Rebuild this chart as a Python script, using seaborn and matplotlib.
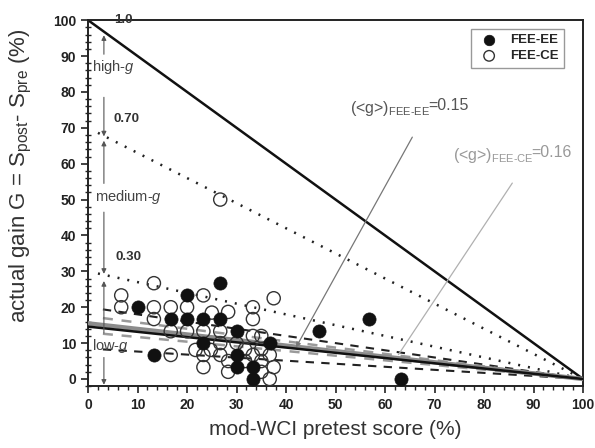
import matplotlib
matplotlib.use("Agg")
import matplotlib.pyplot as plt
import seaborn as sns
import pandas as pd
import numpy as np
from matplotlib.ticker import MultipleLocator

# ---- data ----
ee_x = [10, 13.3, 16.7, 20, 20, 23.3, 23.3, 26.7, 26.7, 30, 30, 30, 33.3, 33.3, 36.7, 46.7, 56.7, 63.3]
ee_y = [20, 6.7, 16.7, 23.3, 16.7, 16.7, 10, 26.7, 16.7, 13.3, 6.7, 3.3, 3.3, 0, 10, 13.3, 16.7, 0]

ce_x = [6.7, 6.7, 13.3, 13.3, 13.3, 16.7, 16.7, 16.7, 20, 20, 23.3, 23.3, 23.3, 23.3, 21.7, 24.8,
        25, 28.3, 26.7, 26.7, 26.7, 26.7, 28.3, 28.3, 30, 31.7, 31.7, 33.3, 33.3, 33.3, 33.3,
        35, 35, 35, 35, 36.7, 37.5, 37.5, 36.7]
ce_y = [23.3, 20, 26.7, 20, 16.7, 20, 13.3, 6.7, 20, 13.3, 23.3, 13.3, 6.7, 3.3, 8.1, 8.1,
        18.5, 18.7, 50, 13.3, 10, 6.7, 5, 2, 10, 8.3, 5, 20, 16.7, 12, 6.7,
        12, 8.3, 5, 2, 6.7, 22.5, 3.3, 0]

line_x = [0, 100]
ref_g = [1.0, 0.70, 0.30]          # normalized-gain reference lines
ref_labels = ["1.0", "0.70", "0.30"]
fit_g_ee = 0.146                    # fitted <g> lines
fit_g_ce = 0.155
band_g_ee = [0.20, 0.085]           # dashed bands
band_g_ce = [0.175, 0.13]

df_ee = pd.DataFrame({"x": ee_x, "y": ee_y})
df_ce = pd.DataFrame({"x": ce_x, "y": ce_y})

# ---- style ----
sns.set_style("ticks")
plt.rcParams["font.family"] = ["Liberation Sans", "DejaVu Sans"]
plt.rcParams["mathtext.fontset"] = "custom"
plt.rcParams["mathtext.rm"] = "Liberation Sans"
plt.rcParams["mathtext.it"] = "Liberation Sans:italic"
plt.rcParams["mathtext.bf"] = "Liberation Sans:bold"

fig = plt.figure(figsize=(5.95, 4.48), dpi=100)
ax = fig.add_axes([0.148, 0.138, 0.832, 0.817])


def gline(g, x0=0.0):
    xs = np.array([x0, line_x[1]], dtype=float)
    return xs, g * (100 - xs)


# reference lines
xs, ys = gline(ref_g[0])
ax.plot(xs, ys, color="#111111", lw=1.8, zorder=2)
for g in ref_g[1:]:
    xs, ys = gline(g, 2.0)
    ax.plot(xs, ys, color="#222222", lw=1.8, ls=(0, (0.8, 3.2)), zorder=2)

# dashed bands
for g in band_g_ee:
    xs, ys = gline(g, 3.0)
    ax.plot(xs, ys, color="#222222", lw=1.5, ls=(0, (4, 3.5)), zorder=2)
for g in band_g_ce:
    xs, ys = gline(g, 3.0)
    ax.plot(xs, ys, color="#9a9a9a", lw=1.8, ls=(0, (4, 3.5)), zorder=2)

# fitted lines
xs, ys = gline(fit_g_ce)
ax.plot(xs, ys, color="#8c8c8c", lw=3.2, zorder=3)
xs, ys = gline(fit_g_ee)
ax.plot(xs, ys, color="#111111", lw=1.8, zorder=3)

# scatter points
sns.scatterplot(data=df_ce, x="x", y="y", ax=ax, s=90, marker="o",
                facecolors="none", edgecolor="#333333", linewidth=1.0,
                label="FEE-CE", zorder=4)
sns.scatterplot(data=df_ee, x="x", y="y", ax=ax, s=90, marker="o",
                color="#111111", edgecolor="#111111", linewidth=0.5,
                label="FEE-EE", zorder=5)

# gain-region arrows
arrow_kw = dict(arrowstyle="-|>", color="#555555", lw=0.8, mutation_scale=7,
                shrinkA=0, shrinkB=0)
ax_x = 3.2
for y0, y1 in [(90.5, 95.8), (78.5, 67.6), (54.5, 66.4), (46.5, 29.3), (12.8, 27.3), (6.0, -1.6)]:
    ax.annotate("", xy=(ax_x, y1), xytext=(ax_x, y0), arrowprops=arrow_kw, zorder=3)

ax.text(0.8, 87, "high-$g$", fontsize=10.5, color="#444444", va="center", ha="left", zorder=6)
ax.text(1.5, 50.7, "medium-$g$", fontsize=10.5, color="#444444", va="center", ha="left", zorder=6)
ax.text(0.8, 9.2, "low-$g$", fontsize=10.5, color="#444444", va="center", ha="left", zorder=6)

# reference line labels
for lab, (lx, ly) in zip(ref_labels, [(5.2, 100), (5.2, 72.4), (5.6, 34)]):
    ax.text(lx, ly, lab, fontsize=9.5, fontweight="bold", color="#333333",
            va="center", ha="left", zorder=6)

# <g> annotations
ax.annotate("", xy=(42, 8.8), xytext=(65.5, 67.4),
            arrowprops=dict(arrowstyle="-|>", color="#777777", lw=0.9,
                            mutation_scale=7, shrinkA=0, shrinkB=0), zorder=6)
ax.annotate("", xy=(62.7, 6.8), xytext=(85.7, 54.6),
            arrowprops=dict(arrowstyle="-", color="#b0b0b0", lw=0.9,
                            shrinkA=0, shrinkB=0), zorder=6)
t1 = ax.text(53, 74, r"(<g>)$_{\text{FEE-EE}}$", fontsize=11.5, color="#555555",
             va="baseline", ha="left")
t2 = ax.text(73.8, 61, r"(<g>)$_{\text{FEE-CE}}$", fontsize=11.5, color="#999999",
             va="baseline", ha="left")
fig.canvas.draw()
inv = ax.transData.inverted()
for tt, y, col, val in [(t1, 74, "#555555", "=0.15"), (t2, 61, "#999999", "=0.16")]:
    bb = tt.get_window_extent()
    xe = inv.transform((bb.x1, bb.y0))[0]
    ax.text(xe - 2.2, y + 0.9, val, fontsize=11.5, color=col, va="baseline", ha="left")

# axes
ax.set_xlim(0, 100)
ax.set_ylim(-2, 100)
ax.xaxis.set_major_locator(MultipleLocator(10))
ax.xaxis.set_minor_locator(MultipleLocator(2))
ax.yaxis.set_major_locator(MultipleLocator(10))
ax.yaxis.set_minor_locator(MultipleLocator(2))
ax.tick_params(axis="both", which="major", direction="out", length=5, width=1.2,
               labelsize=10, colors="#222222")
ax.tick_params(axis="x", which="minor", direction="out", length=3, width=1.0)
ax.tick_params(axis="y", which="minor", direction="inout", length=5, width=1.0)
for lab in ax.get_xticklabels() + ax.get_yticklabels():
    lab.set_fontweight("bold")
for sp in ax.spines.values():
    sp.set_visible(True)
    sp.set_linewidth(1.4)
    sp.set_color("#222222")

ax.set_xlabel("mod-WCI pretest score (%)", fontsize=15, color="#333333", labelpad=6)
ax.set_ylabel(r"actual gain G = S$_{\rm post}$- S$_{\rm pre}$ (%)", fontsize=16,
              color="#333333", labelpad=6)
ax.yaxis.set_label_coords(-0.11, 0.575)

handles, labels = ax.get_legend_handles_labels()
order = [labels.index("FEE-EE"), labels.index("FEE-CE")]
leg = ax.legend([handles[i] for i in order], [labels[i] for i in order],
                loc="upper right", bbox_to_anchor=(0.975, 0.995), frameon=True,
                fancybox=False, edgecolor="#999999", framealpha=1,
                prop={"weight": "bold", "size": 9.5}, handletextpad=0.6,
                borderpad=0.4, labelspacing=0.3, markerscale=0.8)
leg.get_frame().set_linewidth(1.0)

fig.savefig("out.png", dpi=100)
